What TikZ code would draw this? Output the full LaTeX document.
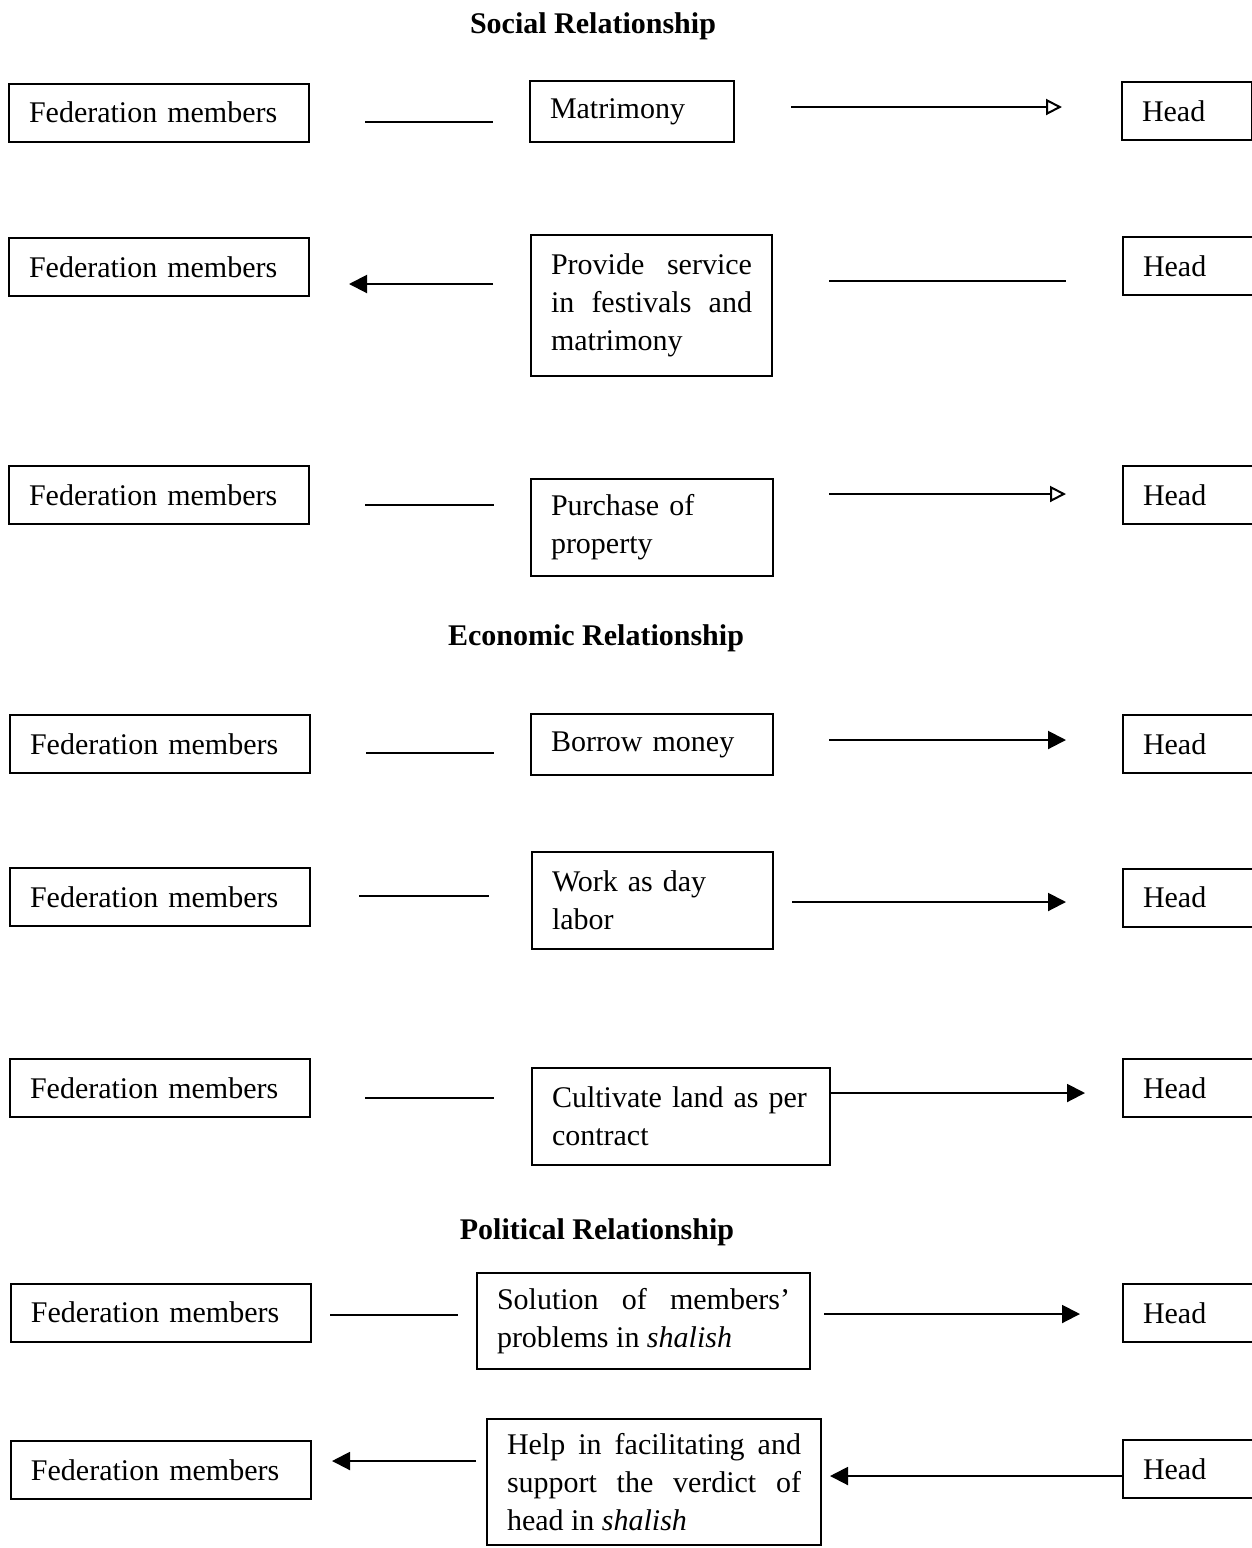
\documentclass[tikz,border=0pt]{standalone}
\usepackage{fontspec}
\setmainfont{Liberation Serif}
\usetikzlibrary{arrows.meta}
\hyphenpenalty=10000
\tolerance=10000

\begin{document}
\begin{tikzpicture}[x=0.5pt, y=-0.5pt, line width=1pt,
  box/.style={draw, anchor=west, inner xsep=10pt, inner ysep=0pt, align=left,
              font=\fontsize{15}{19}\selectfont},
  member/.style={box, text width=130pt, minimum height=29pt},
  headbox/.style={box, text width=45pt, minimum height=29pt},
  title/.style={font=\fontsize{15}{19}\selectfont\bfseries},
  fwd/.style={-{Triangle[length=9pt, width=9pt]}},
  fwdopen/.style={-{Triangle[open, length=8pt, width=8pt]}}]
\clip (0,0) rectangle (1252,1548);

\node [title] (social) at (593,26) {Social Relationship};
\node [title] (economic) at (596,638) {Economic Relationship};
\node [title] (political) at (597,1232) {Political Relationship};

% social
\node [member] (fm1) at (8,112.5) {Federation members};
\node [box, text width=82pt, minimum height=30.5pt] (matri) at (529,111.5) {Matrimony};
\node [headbox] (hd1) at (1121,111) {Head};
\draw ([shift={(55,9.5)}]fm1.east) -- ([shift={(-36,10.5)}]matri.west);
\draw [fwdopen] ([shift={(56,-4.5)}]matri.east) -- ([shift={(-59,-4)}]hd1.west);

\node [member] (fm2) at (8,267) {Federation members};
\node [box, align=justify, text width=100.5pt, minimum height=70.5pt] (service) at (530,305.5)
  {Provide service in festivals and matrimony};
\node [headbox] (hd2) at (1122,266) {Head};
\draw [fwd] ([shift={(-37,-21.5)}]service.west) -- ([shift={(39,17)}]fm2.east);
\draw ([shift={(56,-24.5)}]service.east) -- ([shift={(-56,15)}]hd2.west);

\node [member] (fm3) at (8,495) {Federation members};
\node [box, text width=101pt, minimum height=48.5pt] (property) at (530,527.5)
  {Purchase of\\property};
\node [headbox] (hd3) at (1122,495) {Head};
\draw ([shift={(55,10)}]fm3.east) -- ([shift={(-36,-22.5)}]property.west);
\draw [fwdopen] ([shift={(55,-33.5)}]property.east) -- ([shift={(-56,-1)}]hd3.west);

% economic
\node [member] (fm4) at (9,744) {Federation members};
\node [box, text width=101pt, minimum height=30.5pt] (borrow) at (530,744.5) {Borrow money};
\node [headbox] (hd4) at (1122,744) {Head};
\draw ([shift={(55,9)}]fm4.east) -- ([shift={(-36,8.5)}]borrow.west);
\draw [fwd] ([shift={(55,-4.5)}]borrow.east) -- ([shift={(-56,-4)}]hd4.west);

\node [member] (fm5) at (9,897) {Federation members};
\node [box, text width=100.5pt, minimum height=48.5pt] (work) at (531,900.5)
  {Work as day\\labor};
\node [headbox] (hd5) at (1122,897.5) {Head};
\draw ([shift={(48,-1)}]fm5.east) -- ([shift={(-42,-4.5)}]work.west);
\draw [fwd] ([shift={(18,1.5)}]work.east) -- ([shift={(-56,4.5)}]hd5.west);

\node [member] (fm6) at (9,1088) {Federation members};
\node [box, text width=129pt, minimum height=48.5pt] (land) at (531,1116.5)
  {Cultivate land as per\\contract};
\node [headbox] (hd6) at (1122,1088) {Head};
\draw ([shift={(54,10)}]fm6.east) -- ([shift={(-37,-18.5)}]land.west);
\draw [fwd] ([shift={(0,-23.5)}]land.east) -- ([shift={(-37,5)}]hd6.west);

% political
\node [member] (fm7) at (10,1312.5) {Federation members};
\node [box, align=justify, text width=146.5pt, minimum height=48pt] (solve) at (476,1321)
  {Solution of members' problems in \textit{shalish}};
\node [headbox] (hd7) at (1122,1313) {Head};
\draw ([shift={(18,2.5)}]fm7.east) -- ([shift={(-18,-6)}]solve.west);
\draw [fwd] ([shift={(13,-7)}]solve.east) -- ([shift={(-42,1)}]hd7.west);

\node [member] (fm8) at (10,1470) {Federation members};
\node [box, align=justify, text width=147pt, minimum height=63pt] (verdict) at (486,1482)
  {Help in facilitating and support the verdict of head in \textit{shalish}};
\node [headbox] (hd8) at (1122,1469) {Head};
\draw [fwd] ([shift={(-10,-21)}]verdict.west) -- ([shift={(20,-9)}]fm8.east);
\draw [fwd] ([shift={(0,7)}]hd8.west) -- ([shift={(8,-6)}]verdict.east);
\end{tikzpicture}
\end{document}
